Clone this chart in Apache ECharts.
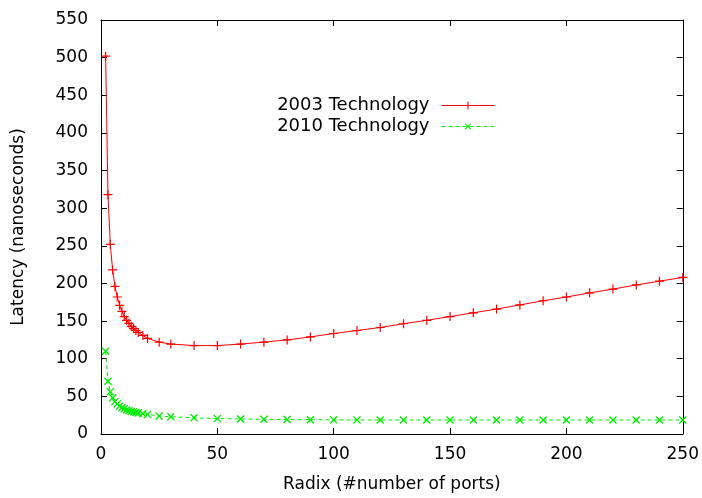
<!DOCTYPE html>
<html>
<head>
<meta charset="utf-8">
<script src="https://cdn.jsdelivr.net/npm/echarts@6/dist/echarts.min.js"></script>
<style>
  html, body { margin: 0; padding: 0; background: #fff; }
  #main { width: 702px; height: 498px; }
</style>
</head>
<body>
<div id="main"></div>
<script>
// radix values (x) shared by both curves
var radix = [2, 3, 4, 5, 6, 7, 8, 9, 10, 11, 12, 13, 14, 15, 16, 18, 20, 25, 30,
  40, 50, 60, 70, 80, 90, 100, 110, 120, 130, 140, 150, 160, 170, 180, 190, 200,
  210, 220, 230, 240, 250];
var tech2003 = [502, 318, 252, 218, 196, 182, 171, 163, 156, 151, 147, 143, 140, 137.5, 135, 131, 127, 122, 119.5,
  117.5, 117.5, 119.5, 122, 125, 129, 133.5, 137.5, 141.5, 146.5, 151, 156, 161, 166, 171.5, 177, 182,
  187.5, 192.5, 198, 203, 208];
var tech2010 = [110, 70, 56, 48, 43, 40, 37, 35, 33.5, 32, 31, 30, 29.5, 28.5, 28, 27, 26, 24, 23,
  21.5, 20.5, 20, 19.5, 19.2, 19, 18.8, 18.7, 18.6, 18.6, 18.6, 18.6, 18.6, 18.6, 18.6, 18.6, 18.6,
  18.6, 18.6, 18.6, 18.6, 18.6];
var seriesNames = ["2003 Technology", "2010 Technology"];

var FONT = "DejaVu Sans";
var FSIZE = 18;
var plus = "path://M6.5,0h2v6.5h6.5v2h-6.5v6.5h-2v-6.5h-6.5v-2h6.5z";

function pairs(ys) {
  var out = [];
  for (var i = 0; i < radix.length; i++) {
    out.push([radix[i], ys[i]]);
  }
  return out;
}

var myChart = echarts.init(document.getElementById("main"));

var frameAxis = {
  axisLine: { show: true, onZero: false, lineStyle: { color: "#000", width: 1 } },
  axisTick: { show: true, inside: true, length: 6, lineStyle: { color: "#000" } },
  splitLine: { show: false }
};

var option = {
  animation: false,
  backgroundColor: "#fff",
  grid: { left: 101, right: 19, top: 20, bottom: 61 },
  legend: {
    orient: "vertical",
    right: 202,
    top: 90,
    align: "right",
    itemWidth: 53,
    itemHeight: 10,
    itemGap: 0,
    lineStyle: { width: 1 },
    textStyle: { fontFamily: FONT, fontSize: FSIZE, color: "#000", lineHeight: 21, padding: [0, 7, 0, 0] },
    data: seriesNames
  },
  xAxis: [
    Object.assign({}, frameAxis, {
      type: "value", min: 0, max: 250, interval: 50, position: "bottom",
      name: "Radix (#number of ports)", nameLocation: "middle", nameGap: 42,
      nameTextStyle: { fontFamily: FONT, fontSize: FSIZE - 1, color: "#000" },
      axisLabel: { margin: 12, fontFamily: FONT, fontSize: FSIZE - 1, color: "#000" }
    }),
    Object.assign({}, frameAxis, {
      type: "value", min: 0, max: 250, interval: 50, position: "top",
      axisLabel: { show: false }
    })
  ],
  yAxis: [
    Object.assign({}, frameAxis, {
      type: "value", min: 0, max: 550, interval: 50, position: "left",
      name: "Latency (nanoseconds)", nameLocation: "middle", nameGap: 74,
      nameTextStyle: { fontFamily: FONT, fontSize: FSIZE - 1, color: "#000" },
      axisLabel: { margin: 13, fontFamily: FONT, fontSize: FSIZE - 1, color: "#000" }
    }),
    Object.assign({}, frameAxis, {
      type: "value", min: 0, max: 550, interval: 50, position: "right",
      axisLabel: { show: false }
    })
  ],
  series: [
    {
      name: seriesNames[0],
      type: "line",
      data: pairs(tech2003),
      symbol: plus,
      symbolSize: 9,
      lineStyle: { color: "#ff0000", width: 1 },
      itemStyle: { color: "#ff0000" }
    },
    {
      name: seriesNames[1],
      type: "line",
      data: pairs(tech2010),
      symbol: plus,
      symbolSize: 10,
      symbolRotate: 45,
      lineStyle: { color: "#00ee00", width: 1, type: [4, 3] },
      itemStyle: { color: "#00ee00" }
    }
  ]
};

myChart.setOption(option);
</script>
</body>
</html>
